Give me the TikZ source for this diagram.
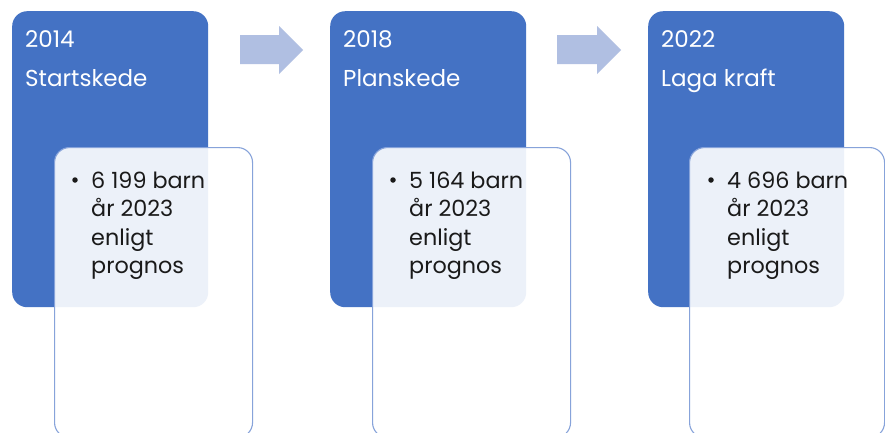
\documentclass[tikz,border=0pt]{standalone}
\usepackage{fontspec}
\setmainfont{Poppins}
\definecolor{stageblue}{HTML}{4472C4}
\definecolor{arrowblue}{HTML}{B0BFE2}
\definecolor{cardline}{HTML}{87A3DA}
\definecolor{inktext}{HTML}{1A1A1A}
\begin{document}
\begin{tikzpicture}[x=1pt,y=-1pt,
  stagebox/.style={draw=none,fill=stageblue,rounded corners=15pt,minimum width=196pt,minimum height=296pt,inner sep=0pt,anchor=north west},
  cardbox/.style={draw=cardline,line width=1.1pt,fill=white,fill opacity=0.9,rounded corners=15pt,inner sep=0pt,anchor=north west,minimum height=290pt},
  headtxt/.style={text=white,font=\fontsize{23}{26}\selectfont,anchor=base west,inner sep=0pt},
  bodytxt/.style={text=inktext,font=\fontsize{22.3}{28}\selectfont,anchor=base west,inner sep=0pt},
  dot/.style={circle,fill=inktext,inner sep=0pt,minimum size=5.5pt},
  flowarrow/.style={fill=arrowblue,draw=none}]
\useasboundingbox (0,0) rectangle (885,432);
\fill[white] (0,0) rectangle (885,432);
\begin{scope}
\clip (0,0) rectangle (885,432);
% stage boxes
\node[stagebox] (s1) at (12,11) {};
\node[stagebox] (s2) at (330,11) {};
\node[stagebox] (s3) at (648,11) {};
% cards
\node[cardbox,minimum width=198pt] (c1) at (54,147) {};
\node[cardbox,minimum width=198pt] (c2) at (372,147) {};
\node[cardbox,minimum width=195pt] (c3) at (689,147) {};
\end{scope}
% arrows
\fill[flowarrow] (240,35) -- (279,35) -- (279,26) -- (303,50) -- (279,74) -- (279,64) -- (240,64) -- cycle;
\fill[flowarrow] (557,35) -- (597,35) -- (597,26) -- (621,50) -- (597,74) -- (597,64) -- (557,64) -- cycle;
% headings
\node[headtxt] (y1) at (25,47) {2014};
\node[headtxt] (n1) at (25,86) {Startskede};
\node[headtxt] (y2) at (343,47) {2018};
\node[headtxt] (n2) at (343,86) {Planskede};
\node[headtxt] (y3) at (661,47) {2022};
\node[headtxt] (n3) at (661,86) {Laga kraft};
% bullets, card 1
\node[dot] (d1) at (75,180) {};
\node[bodytxt] (b1a) at (91,188) {6 199 barn};
\node[bodytxt] (b1b) at (91,216.5) {år 2023};
\node[bodytxt] (b1c) at (91,245) {enligt};
\node[bodytxt] (b1d) at (91,273.5) {prognos};
% card 2
\node[dot] (d2) at (393,180) {};
\node[bodytxt] (b2a) at (409,188) {5 164 barn};
\node[bodytxt] (b2b) at (409,216.5) {år 2023};
\node[bodytxt] (b2c) at (409,245) {enligt};
\node[bodytxt] (b2d) at (409,273.5) {prognos};
% card 3
\node[dot] (d3) at (711,180) {};
\node[bodytxt] (b3a) at (727,188) {4 696 barn};
\node[bodytxt] (b3b) at (727,216.5) {år 2023};
\node[bodytxt] (b3c) at (727,245) {enligt};
\node[bodytxt] (b3d) at (727,273.5) {prognos};
\end{tikzpicture}
\end{document}
